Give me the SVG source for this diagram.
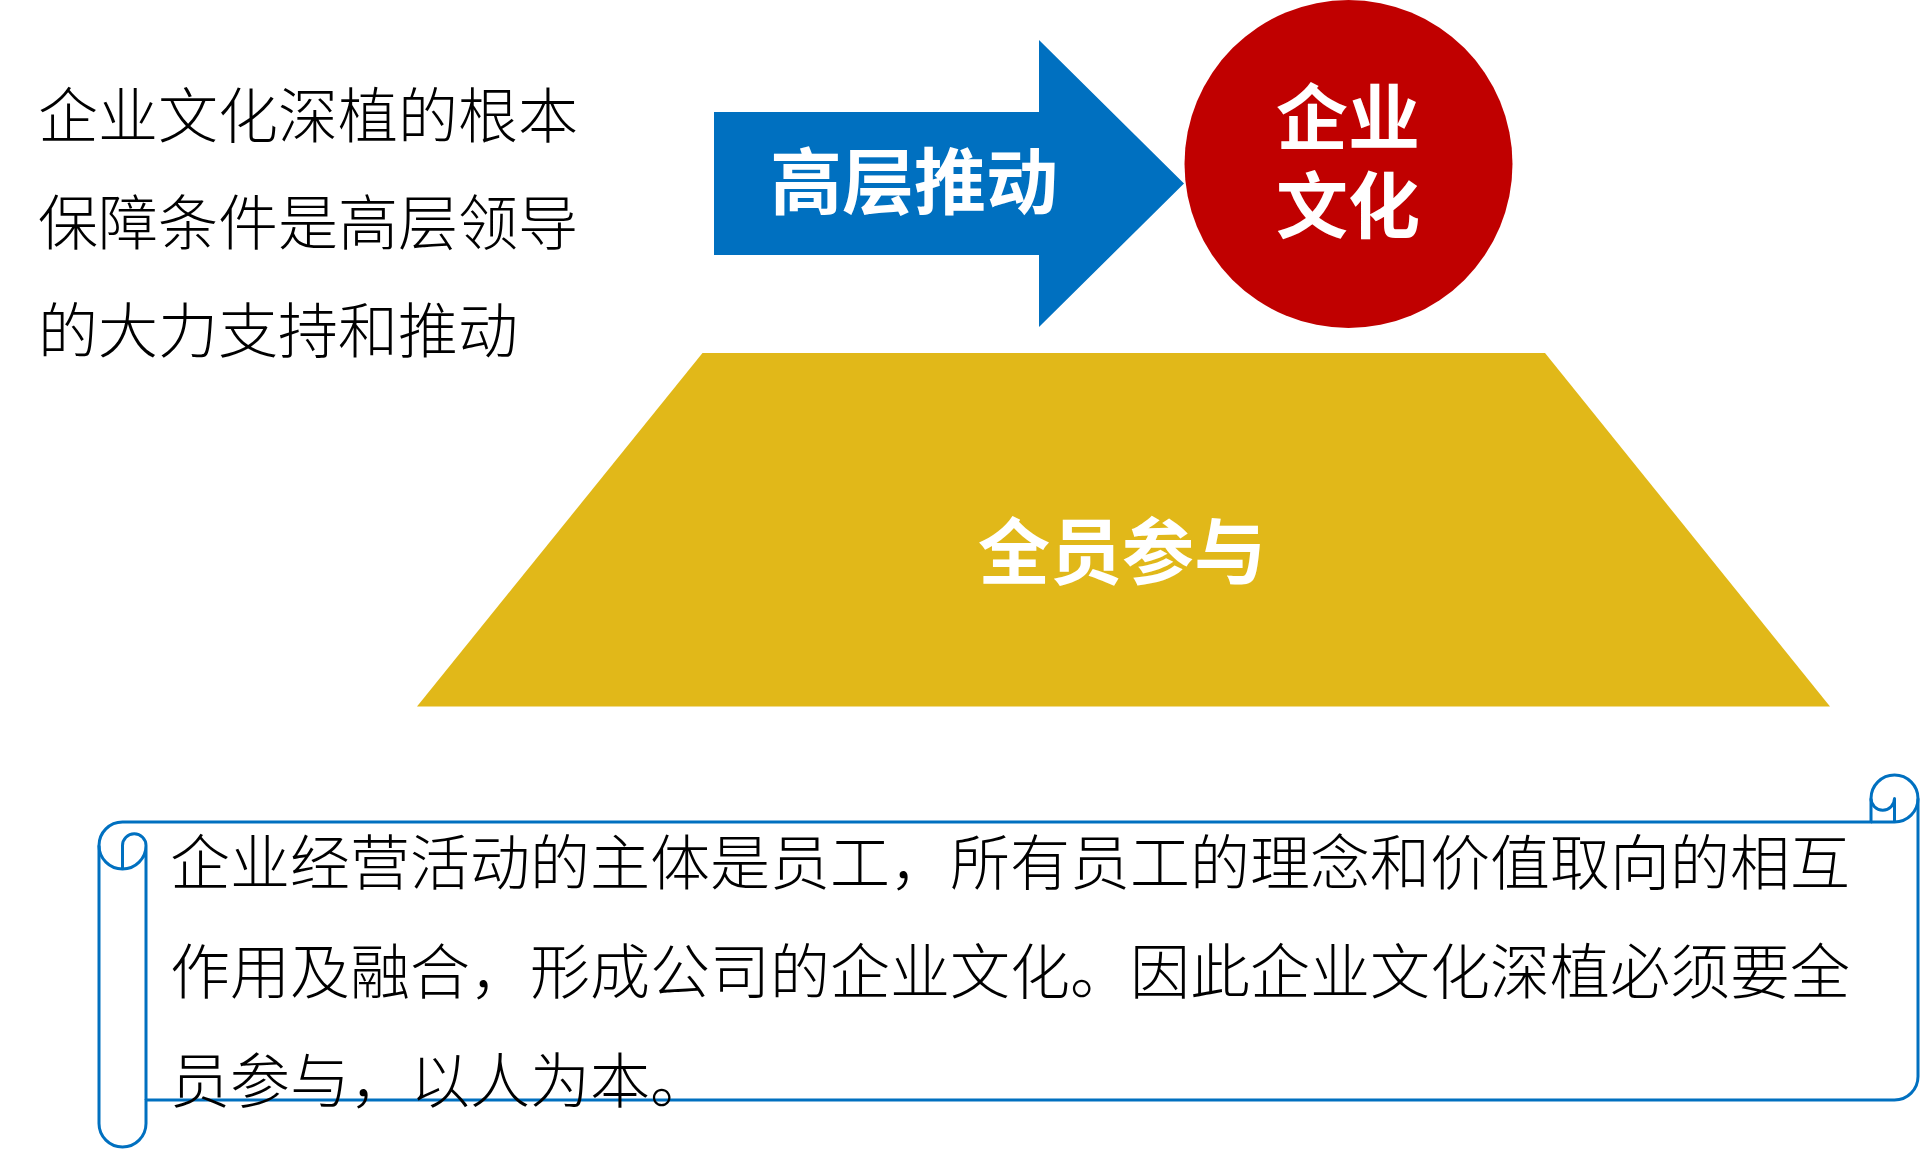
<svg xmlns="http://www.w3.org/2000/svg" width="1920" height="1155" viewBox="0 0 1920 1155">
<style>
.body{font-family:"Noto Sans CJK SC","Noto Sans",sans-serif;font-weight:300;font-size:60px;fill:#000}
.lbl{font-family:"Noto Sans CJK SC","Noto Sans",sans-serif;font-weight:700;font-size:72px;fill:#fff}
.scroll{fill:none;stroke:#0070C0;stroke-width:3;stroke-linejoin:round}
</style>
<rect width="1920" height="1155" fill="#fff"/>
<g id="note-left">
<text class="body" x="38" y="138">企业文化深植的根本</text>
<text class="body" x="38" y="245">保障条件是高层领导</text>
<text class="body" x="38" y="353">的大力支持和推动</text>
</g>
<g id="arrow-push">
<polygon points="714,112 1039,112 1039,40 1184,183.5 1039,327 1039,255 714,255" fill="#0070C0"/>
<text class="lbl" x="770" y="208">高层推动</text>
</g>
<g id="culture">
<circle cx="1348.5" cy="164" r="164" fill="#C00000"/>
<text class="lbl" text-anchor="middle"><tspan x="1348" y="144">企业</tspan><tspan x="1348" y="232">文化</tspan></text>
</g>
<g id="all-staff">
<polygon points="702.5,353 1545,353 1830,706.5 417,706.5" fill="#E1B819"/>
<text class="lbl" x="1122" y="578" text-anchor="middle">全员参与</text>
</g>
<g id="scroll">
<path class="scroll" d="M99,845.5 A23.5,23.5 0 0 1 122.5,822 L1871,822 L1871,798.5 A23.5,23.5 0 0 1 1918,798.5 L1918,1076.5 A23.5,23.5 0 0 1 1894.5,1100 L146,1100 L146,1123.5 A23.5,23.5 0 0 1 99,1123.5 Z"/>
<path class="scroll" d="M1871,822 L1894.5,822 A23.5,23.5 0 0 0 1918,798.5 M1894.5,822 L1894.5,798.5 A11.75,11.75 0 0 1 1871,798.5 M122.5,869 L122.5,845.5 A11.75,11.75 0 0 1 146,845.5 A23.5,23.5 0 0 1 99,845.5 M146,845.5 L146,1100"/>
<text class="body" x="170" y="885">企业经营活动的主体是员工，所有员工的理念和价值取向的相互</text>
<text class="body" x="170" y="994">作用及融合，形成公司的企业文化。因此企业文化深植必须要全</text>
<text class="body" x="170" y="1103">员参与，以人为本。</text>
</g>
</svg>
